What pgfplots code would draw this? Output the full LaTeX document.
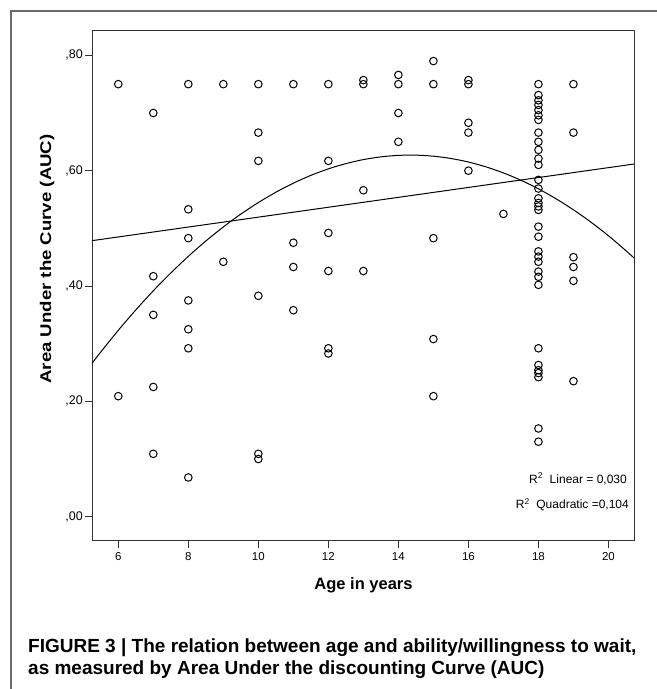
\documentclass[border=0pt]{standalone}
\usepackage{fontspec}
\setmainfont{Liberation Sans}
\newfontfamily\ylabfont{Liberation Sans}[FakeStretch=1.2]
\usepackage{pgfplots}
\pgfplotsset{compat=1.18}
\definecolor{frame}{HTML}{6A6A6A}
\definecolor{axisc}{HTML}{333333}
\begin{document}
\begin{tikzpicture}[x=1bp,y=1bp]
\useasboundingbox (0,0) rectangle (657,689);
% outer figure frame (open at right and bottom)
\draw[frame, line width=1.4bp] (11,0) -- (11,678) -- (657,678);
\begin{axis}[
  at={(92bp,148.3bp)}, anchor=south west,
  scale only axis, width=542bp, height=510bp,
  xmin=5.249, xmax=20.73, ymin=-0.0416, ymax=0.8427,
  axis line style={axisc, line width=1bp},
  xtick={6,8,10,12,14,16,18,20},
  xticklabels={6,8,10,12,14,16,18,20},
  ytick={0,0.2,0.4,0.6,0.8},
  yticklabels={{,00},{,20},{,40},{,60},{,80}},
  tick align=outside,
  xtick pos=bottom, ytick pos=left,
  major tick length=7bp,
  tick style={axisc, line width=1bp},
  xticklabel style={font=\fontsize{11.5bp}{13bp}\selectfont, inner sep=0pt, anchor=north, yshift=-5bp},
  yticklabel style={font=\fontsize{12.5bp}{14bp}\selectfont, inner sep=0pt, anchor=east, xshift=-2bp},
  clip=false,
]
% scatter points
\addplot[only marks, mark=o, mark size=3.8bp, mark options={line width=1bp, black}] coordinates {
(6,0.75) (6,0.209)
(7,0.70) (7,0.417) (7,0.350) (7,0.225) (7,0.109)
(8,0.75) (8,0.533) (8,0.483) (8,0.375) (8,0.325) (8,0.292) (8,0.068)
(9,0.75) (9,0.442)
(10,0.75) (10,0.666) (10,0.617) (10,0.383) (10,0.109) (10,0.100)
(11,0.75) (11,0.475) (11,0.433) (11,0.358)
(12,0.75) (12,0.617) (12,0.492) (12,0.426) (12,0.292) (12,0.283)
(13,0.757) (13,0.75) (13,0.566) (13,0.426)
(14,0.766) (14,0.75) (14,0.70) (14,0.65)
(15,0.790) (15,0.75) (15,0.483) (15,0.308) (15,0.209)
(16,0.757) (16,0.75) (16,0.683) (16,0.666) (16,0.60)
(17,0.525)
(18,0.75) (18,0.731) (18,0.722) (18,0.714) (18,0.705) (18,0.696) (18,0.688)
(18,0.666) (18,0.650) (18,0.636) (18,0.621) (18,0.61) (18,0.584) (18,0.569)
(18,0.552) (18,0.544) (18,0.538) (18,0.532) (18,0.503) (18,0.4855) (18,0.46)
(18,0.451) (18,0.442) (18,0.425) (18,0.416) (18,0.402) (18,0.292) (18,0.263)
(18,0.254) (18,0.249) (18,0.242) (18,0.153) (18,0.130)
(19,0.75) (19,0.666) (19,0.45) (19,0.433) (19,0.409) (19,0.235)
};
% linear fit
\addplot[black, line width=1bp] coordinates {(5.249,0.4786) (20.73,0.6115)};
% quadratic fit
\addplot[black, line width=1bp, smooth] coordinates {
(5.249,0.2660) (5.5,0.2856) (6,0.3232) (6.5,0.3585) (7,0.3917) (7.5,0.4226)
(8,0.4514) (8.5,0.4780) (9,0.5024) (9.5,0.5247) (10,0.5447) (10.5,0.5626)
(11,0.5783) (11.5,0.5918) (12,0.6031) (12.5,0.6122) (13,0.6192) (13.5,0.6239)
(14,0.6265) (14.5,0.6269) (15,0.6251) (15.5,0.6211) (16,0.6150) (16.5,0.6066)
(17,0.5961) (17.5,0.5834) (18,0.5685) (18.5,0.5514) (19,0.5321) (19.5,0.5107)
(20,0.4871) (20.5,0.4612) (20.73,0.4486)
};
\end{axis}
% R^2 annotations
\node[anchor=east, inner sep=0pt, font=\fontsize{12bp}{14bp}\selectfont] at (627,210) {R\textsuperscript{2}\ \ Linear = 0,030};
\node[anchor=east, inner sep=0pt, font=\fontsize{12bp}{14bp}\selectfont] at (629,184) {R\textsuperscript{2}\ \ Quadratic =0,104};
% axis titles
\node[anchor=base, inner sep=0pt, font=\fontsize{16.5bp}{18bp}\selectfont\bfseries] at (363.5,99) {Age in years};
\node[rotate=90, font=\fontsize{15.5bp}{18bp}\ylabfont\bfseries] at (47,430) {Area Under the Curve (AUC)};
% caption
\node[anchor=base west, inner sep=0pt, font=\fontsize{19bp}{22bp}\selectfont\bfseries] at (28,36.7) {FIGURE 3 | The relation between age and ability/willingness to wait,};
\node[anchor=base west, inner sep=0pt, font=\fontsize{19bp}{22bp}\selectfont\bfseries] at (28,14) {as measured by Area Under the discounting Curve (AUC)};
\end{tikzpicture}
\end{document}
